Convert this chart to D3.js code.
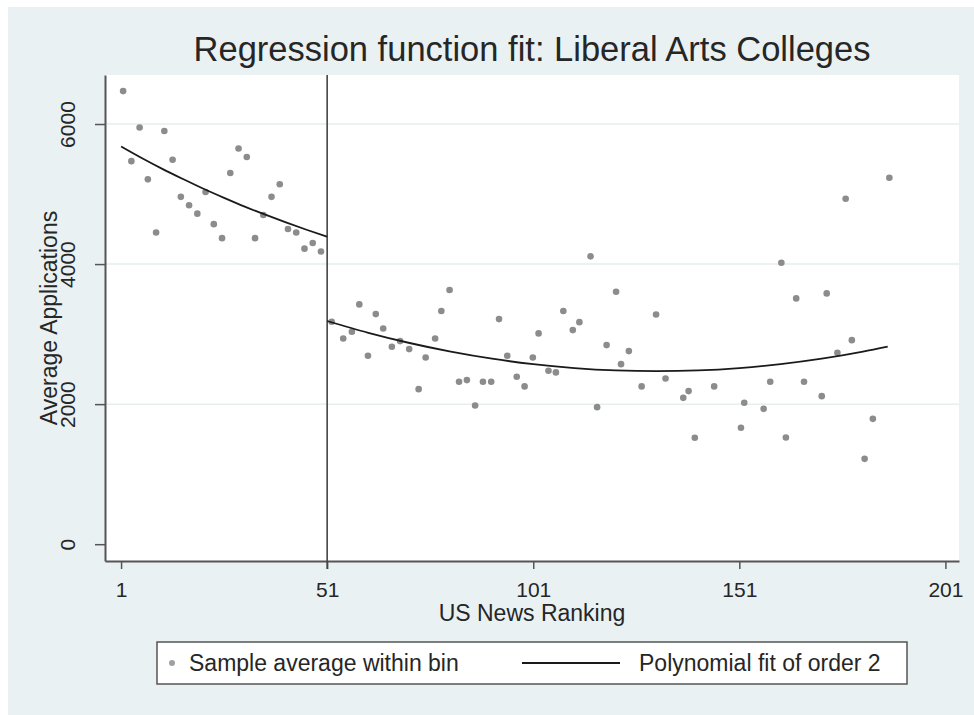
<!DOCTYPE html>
<html>
<head>
<meta charset="utf-8">
<script src="https://cdn.jsdelivr.net/npm/d3@7"></script>
<style>
  body { margin: 0; background: #ffffff; }
  text { font-family: "Liberation Sans", Arial, sans-serif; fill: #262626; }
</style>
</head>
<body>
<div id="chart"></div>
<script>
// Binned sample averages, left of the cutoff (rank, applications)
var leftRank = [1.5, 3.5, 5.5, 7.5, 9.5, 11.5, 13.5, 15.5, 17.5, 19.5, 21.5, 23.5, 25.5,
  27.5, 29.5, 31.5, 33.5, 35.5, 37.5, 39.5, 41.5, 43.5, 45.5, 47.5, 49.5];
var leftApps = [6470, 5470, 5950, 5210, 4450, 5900, 5490, 4960, 4840, 4720, 5030, 4570, 4370,
  5300, 5650, 5530, 4370, 4700, 4960, 5140, 4500, 4450, 4220, 4300, 4180];

// Binned sample averages, right of the cutoff
var rightRank = [52.1, 54.9, 57.0, 58.8, 60.9, 62.8, 64.6, 66.7, 68.7, 70.9, 73.2, 74.9, 77.2,
  78.7, 80.7, 83.0, 84.9, 86.9, 88.8, 90.8, 92.7, 94.7, 97.0, 98.9, 100.9, 102.3, 104.7,
  106.5, 108.3, 110.6, 112.2, 114.9, 116.5, 118.8, 121.1, 122.3, 124.2, 127.3, 130.8,
  133.1, 137.4, 138.7, 140.2, 144.9, 151.4, 152.2, 156.9, 158.5, 161.2, 162.3, 164.8,
  166.7, 171.0, 172.2, 174.8, 176.8, 178.3, 181.4, 183.4, 187.4];
var rightApps = [3176, 2938, 3033, 3424, 2690, 3286, 3081, 2819, 2900, 2786, 2214, 2667, 2938,
  3329, 3629, 2319, 2343, 1981, 2319, 2319, 3214, 2690, 2390, 2253, 2667, 3010, 2476,
  2453, 3329, 3057, 3171, 4110, 1957, 2843, 3604, 2571, 2757, 2253, 3281,
  2367, 2090, 2186, 1519, 2253, 1662, 2019, 1933, 2319, 4019, 1524, 3510,
  2319, 2114, 3581, 2733, 4933, 2914, 1219, 1790, 5233];

// Fitted polynomial
var fitLeftRank = [1, 6, 11, 16, 21, 26, 31, 36, 41, 46, 51];
var fitLeftApps = [5680, 5515, 5360, 5215, 5075, 4945, 4820, 4705, 4595, 4490, 4390];
var fitRightRank = [51, 61, 71, 81, 91, 101, 111, 121, 131, 141, 151, 161, 171, 181, 187];
var fitRightApps = [3187, 3019, 2873, 2750, 2649, 2571, 2515, 2481, 2470, 2481, 2515, 2571, 2649, 2750, 2821];

var xTicks = [1, 51, 101, 151, 201];
var yTicks = [0, 2000, 4000, 6000];
var cutoff = 51;

var svgWidth = 974;
var svgHeight = 715;

// plot region
var plot = { left: 105, right: 959, top: 75, bottom: 561 };

var svg = d3.select("#chart")
  .append("svg")
  .attr("width", svgWidth)
  .attr("height", svgHeight);

// graph region background
svg.append("rect")
  .attr("x", 8).attr("y", 7)
  .attr("width", svgWidth - 8).attr("height", svgHeight - 7)
  .attr("fill", "#eaf1f3");

svg.append("rect")
  .attr("x", plot.left).attr("y", plot.top)
  .attr("width", plot.right - plot.left).attr("height", plot.bottom - plot.top)
  .attr("fill", "#ffffff");

var x = d3.scaleLinear()
  .domain([-2.9, 204.3])
  .range([plot.left, plot.right]);

var y = d3.scaleLinear()
  .domain([-240, 6700])
  .range([plot.bottom, plot.top]);

// gridlines
svg.append("g")
  .selectAll("line")
  .data(yTicks.filter(d => d > 0))
  .enter()
  .append("line")
  .attr("x1", plot.left).attr("x2", plot.right)
  .attr("y1", d => y(d)).attr("y2", d => y(d))
  .attr("stroke", "#e6eef0")
  .attr("stroke-width", 1.5);

// axes
var leftAxis = d3.axisLeft(y).tickValues(yTicks).tickFormat(d3.format("d"))
  .tickSize(10).tickSizeOuter(0);
var bottomAxis = d3.axisBottom(x).tickValues(xTicks).tickFormat(d3.format("d"))
  .tickSize(8).tickSizeOuter(0);

var gy = svg.append("g")
  .attr("transform", `translate(${plot.left}, 0)`)
  .call(leftAxis);

var gx = svg.append("g")
  .attr("transform", `translate(0, ${plot.bottom})`)
  .call(bottomAxis);

[gx, gy].forEach(function(g) {
  g.select(".domain").attr("stroke", "#555").attr("stroke-width", 2);
  g.selectAll(".tick line").attr("stroke", "#555").attr("stroke-width", 1.5);
  g.selectAll(".tick text").attr("font-size", "21px").attr("fill", "#262626");
});

gy.selectAll(".tick text")
  .attr("x", 0)
  .attr("dy", 0)
  .attr("text-anchor", "middle")
  .attr("transform", "translate(-30, 0) rotate(-90)");

gx.selectAll(".tick text")
  .attr("y", 36)
  .attr("dy", 0);

// cutoff line
svg.append("line")
  .attr("x1", x(cutoff)).attr("x2", x(cutoff))
  .attr("y1", plot.top).attr("y2", plot.bottom + 8)
  .attr("stroke", "#444")
  .attr("stroke-width", 1.6);

// scatter points
var points = leftRank.map((r, i) => ({ r: r, v: leftApps[i] }))
  .concat(rightRank.map((r, i) => ({ r: r, v: rightApps[i] })));

svg.append("g")
  .selectAll("circle")
  .data(points)
  .enter()
  .append("circle")
  .attr("cx", d => x(d.r))
  .attr("cy", d => y(d.v))
  .attr("r", 3.3)
  .attr("fill", "#8c8c8c");

// fit lines
var line = d3.line()
  .x(d => x(d[0]))
  .y(d => y(d[1]))
  .curve(d3.curveMonotoneX);

[[fitLeftRank, fitLeftApps], [fitRightRank, fitRightApps]].forEach(function(s) {
  svg.append("path")
    .datum(s[0].map((r, i) => [r, s[1][i]]))
    .attr("d", line)
    .attr("fill", "none")
    .attr("stroke", "#1a1a1a")
    .attr("stroke-width", 1.8);
});

// titles
var midX = (plot.left + plot.right) / 2;

svg.append("text")
  .attr("x", midX).attr("y", 61)
  .attr("text-anchor", "middle")
  .attr("font-size", "34.5px")
  .text("Regression function fit: Liberal Arts Colleges");

svg.append("text")
  .attr("x", midX).attr("y", 621)
  .attr("text-anchor", "middle")
  .attr("font-size", "23px")
  .text("US News Ranking");

svg.append("text")
  .attr("transform", `translate(57, ${(plot.top + plot.bottom) / 2}) rotate(-90)`)
  .attr("text-anchor", "middle")
  .attr("font-size", "23px")
  .text("Average Applications");

// legend
var legend = svg.append("g");

legend.append("rect")
  .attr("x", 157).attr("y", 642)
  .attr("width", 750).attr("height", 42)
  .attr("fill", "#ffffff")
  .attr("stroke", "#555")
  .attr("stroke-width", 1.5);

legend.append("circle")
  .attr("cx", 172).attr("cy", 663)
  .attr("r", 3)
  .attr("fill", "#a0a0a0");

legend.append("text")
  .attr("x", 189).attr("y", 671)
  .attr("font-size", "23px")
  .text("Sample average within bin");

legend.append("line")
  .attr("x1", 522).attr("x2", 620)
  .attr("y1", 663).attr("y2", 663)
  .attr("stroke", "#1a1a1a")
  .attr("stroke-width", 1.8);

legend.append("text")
  .attr("x", 639).attr("y", 671)
  .attr("font-size", "23px")
  .text("Polynomial fit of order 2");
</script>
</body>
</html>
